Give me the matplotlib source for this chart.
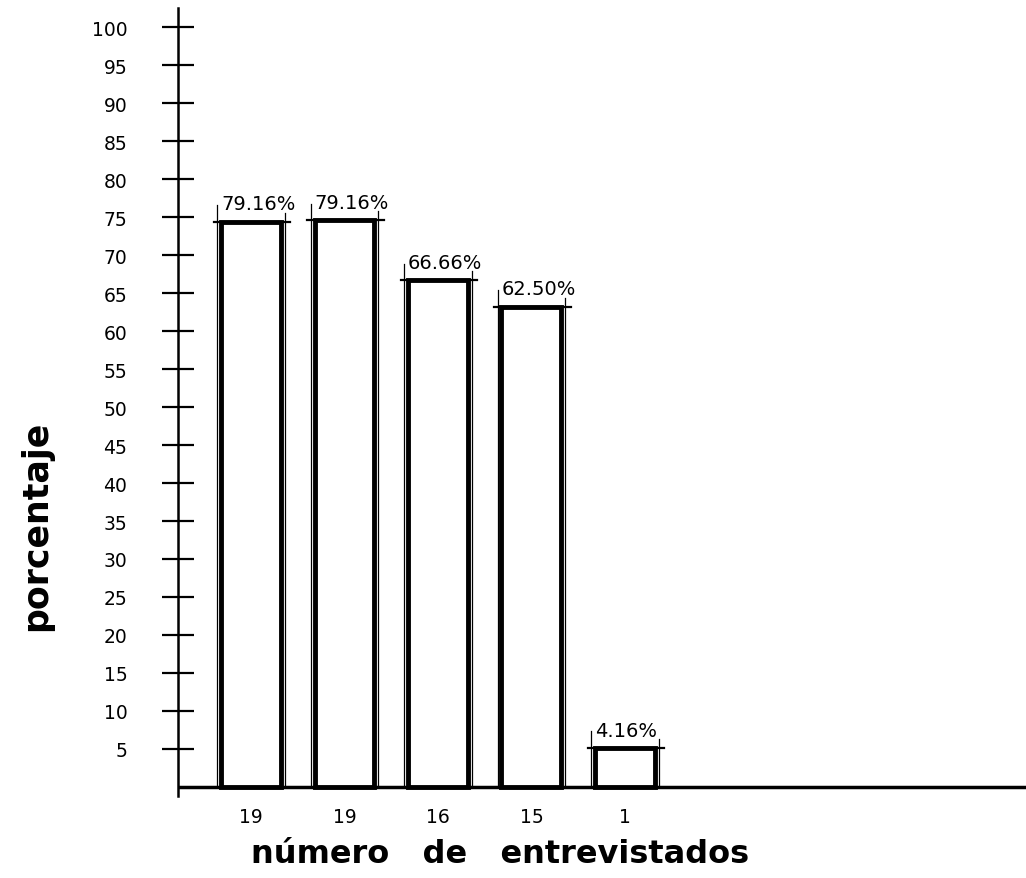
import matplotlib
matplotlib.use("Agg")
import matplotlib.pyplot as plt
from matplotlib.patches import Rectangle

# Hand-drawn bar chart: percentage of interviewees per answer.
respondents = ["19", "19", "16", "15", "1"]
pct_labels = ["79.16%", "79.16%", "66.66%", "62.50%", "4.16%"]
# bar heights as they are drawn on the sheet (the first two sit lower than 79)
drawn_heights = [74.4, 74.6, 66.7, 63.2, 5.1]
yticks = list(range(5, 101, 5))

plt.rcParams["font.family"] = ["DejaVu Sans"]

fig = plt.figure(figsize=(10.26, 8.79), dpi=100)
ax = fig.add_axes([0.1735, 0.0933, 0.8265, 0.897])

xs = list(range(len(drawn_heights)))
width = 0.64

for x, h, lab in zip(xs, drawn_heights, pct_labels):
    left = x - width / 2
    right = x + width / 2
    ax.add_patch(Rectangle((left, 0), width, h, facecolor="white",
                           edgecolor="black", linewidth=3.5, zorder=3))
    # thin pencil guide lines along the sides, running past the top
    ax.plot([left - 0.04, left - 0.04], [0, h + 2.2], color="black", lw=0.9, zorder=4)
    ax.plot([right + 0.04, right + 0.04], [0, h + 1.2], color="black", lw=0.9, zorder=4)
    # construction line across the top of the bar
    ax.plot([left - 0.08, right + 0.1], [h, h], color="black", lw=1.6, zorder=4)
    ax.annotate(lab, xy=(left, h), xytext=(0, 9), textcoords="offset points",
                ha="left", va="baseline", fontsize=14, zorder=5)

ax.axhline(0, color="black", lw=2.5, zorder=2)

ax.set_xlim(-0.78, 8.29)
ax.set_ylim(-1.2, 102.6)

ax.set_yticks(yticks)
ax.set_yticklabels([str(t) for t in yticks])
ax.tick_params(axis="y", direction="inout", length=23, width=1.6, pad=25,
               labelsize=13.5)
ax.set_xticks(xs)
ax.set_xticklabels(respondents)
ax.tick_params(axis="x", length=0, pad=8, labelsize=13.5)

for side in ["top", "right", "bottom"]:
    ax.spines[side].set_visible(False)
ax.spines["left"].set_linewidth(1.8)

fig.text(36 / 1026, (879 - 526) / 879, "porcentaje", rotation=90,
         ha="center", va="center", fontsize=25, fontweight="bold")
fig.text(500 / 1026, (879 - 863) / 879, "número   de   entrevistados",
         ha="center", va="baseline", fontsize=23, fontweight="bold")

fig.savefig("out.png", dpi=100)
